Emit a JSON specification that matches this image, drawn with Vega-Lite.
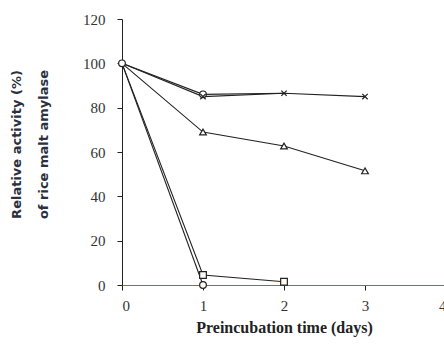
{
  "$schema": "https://vega.github.io/schema/vega-lite/v6.json",
  "autosize": "none",
  "padding": {"left": 122, "top": 19, "right": 0, "bottom": 62},
  "width": 324,
  "height": 266,
  "background": "white",
  "config": {"view": {"stroke": null}},
  "data": {"values": [
    {"series": "A", "day": 0, "activity": 100},
    {"series": "A", "day": 1, "activity": 86},
    {"series": "A", "day": 2, "activity": 86.5},
    {"series": "B", "day": 0, "activity": 100},
    {"series": "B", "day": 1, "activity": 85},
    {"series": "B", "day": 2, "activity": 86.5},
    {"series": "B", "day": 3, "activity": 85},
    {"series": "C", "day": 0, "activity": 100},
    {"series": "C", "day": 1, "activity": 69},
    {"series": "C", "day": 2, "activity": 62.7},
    {"series": "C", "day": 3, "activity": 51.5},
    {"series": "D", "day": 0, "activity": 100},
    {"series": "D", "day": 1, "activity": 4.5},
    {"series": "D", "day": 2, "activity": 1.5},
    {"series": "E", "day": 0, "activity": 100},
    {"series": "E", "day": 1, "activity": 0}
  ]},
  "encoding": {
    "x": {"field": "day", "type": "quantitative",
      "scale": {"domain": [0, 4], "nice": false, "zero": false},
      "axis": {"values": [0, 1, 2, 3, 4], "grid": false, "title": "Preincubation time (days)",
        "domainColor": "#8c6d4f", "tickColor": "#222", "tickSize": 5, "labelPadding": 8,
        "labelFont": "Liberation Serif", "labelFontSize": 15, "labelColor": "#333",
        "titleFont": "Liberation Serif", "titleFontSize": 16, "titleFontWeight": "bold", "titleColor": "#222",
        "titlePadding": 6}},
    "y": {"field": "activity", "type": "quantitative",
      "scale": {"domain": [0, 120], "nice": false},
      "axis": {"values": [0, 20, 40, 60, 80, 100, 120], "grid": false,
        "title": ["Relative activity (%)", "of rice malt amylase"],
        "domainColor": "#222", "tickColor": "#222", "tickSize": 5, "labelPadding": 12,
        "labelFont": "Liberation Serif", "labelFontSize": 15, "labelColor": "#333",
        "titleFont": "DejaVu Sans", "titleFontSize": 13, "titleFontWeight": "bold", "titleColor": "#2a3040",
        "titleLineHeight": 27, "titlePadding": 32, "titleY": 125}}
  },
  "layer": [
    {"mark": {"type": "line", "color": "#222", "strokeWidth": 1.1},
     "encoding": {"detail": {"field": "series"}}},
    {"transform": [{"filter": "(datum.series == 'A' && datum.day < 2) || (datum.series != 'A' && datum.day > 0)"}],
     "mark": {"type": "point", "filled": true, "fill": "white", "stroke": "#222", "strokeWidth": 1.2, "size": 45, "opacity": 1},
     "encoding": {"shape": {"field": "series", "type": "nominal", "legend": null,
        "scale": {"domain": ["A", "B", "C", "D", "E"],
          "range": ["circle", "M-0.8,-0.8L0.8,0.8M-0.8,0.8L0.8,-0.8", "triangle-up", "square", "circle"]}}}}
  ]
}
